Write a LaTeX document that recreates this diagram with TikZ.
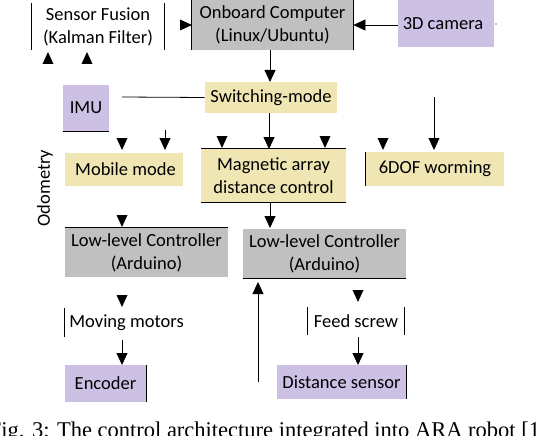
\documentclass[tikz,border=0pt]{standalone}
\usepackage{fontspec}
\setmainfont{Carlito}
\newfontfamily\capfont{Liberation Serif}
\usetikzlibrary{arrows.meta}
\definecolor{lav}{RGB}{204,193,228}
\definecolor{crm}{RGB}{240,230,180}
\definecolor{gryb}{RGB}{192,192,192}
\newcommand\headdn[2]{\fill (#1-5.5,#2-12) -- (#1+5.5,#2-12) -- (#1,#2) -- cycle;}
\newcommand\headup[2]{\fill (#1-5.5,#2+12) -- (#1+5.5,#2+12) -- (#1,#2) -- cycle;}
\newcommand\headrt[2]{\fill (#1-12,#2-5.5) -- (#1-12,#2+5.5) -- (#1,#2) -- cycle;}
\begin{document}
\begin{tikzpicture}[x=1pt,y=-1pt,line width=0.8pt,
  box/.style={inner sep=0pt,align=center,font=\fontsize{18.5}{23}\selectfont},
  lavbox/.style={box,fill=lav},
  crmbox/.style={box,fill=crm},
  grybox/.style={box,fill=gryb},
  arr/.style={-{Triangle[width=11pt,length=12pt]}}]
\useasboundingbox (0,0) rectangle (538,436);
\clip (0,0) rectangle (538,436);
% boxes
\node[box,minimum width=132pt,minimum height=47pt] (sf) at (98,26.5) {Sensor Fusion\\(Kalman Filter)};
\draw (sf.north west) -- (sf.south west);
\draw (sf.north east) -- (sf.south east);
\node[grybox,minimum width=161pt,minimum height=50pt] (onb) at (272.5,25) {Onboard Computer\\(Linux/Ubuntu)};
\draw (onb.north west) -- (onb.south west);
\draw (onb.north east) -- (onb.south east);
\node[lavbox,minimum width=96pt,minimum height=47pt] (cam) at (446,23.5) {3D camera\hspace*{6pt}};
\draw (cam.north west) -- (cam.north east);
\node[lavbox,minimum width=46pt,minimum height=46pt] (imu) at (86,108) {IMU};
\draw (imu.south west) -- (imu.south east);
\node[crmbox,minimum width=132pt,minimum height=31pt] (sw) at (271,97.5) {Switching-mode};
\node[crmbox,minimum width=118pt,minimum height=33pt] (mob) at (124,169.5) {\hspace*{3pt}Mobile mode};
\node[crmbox,minimum width=145pt,minimum height=53pt] (mag) at (273.5,175.5) {Magnetic array\\distance control};
\draw (mag.north west) -- (mag.north east);
\draw (mag.south west) -- (mag.south east);
\node[crmbox,minimum width=138pt,minimum height=34pt] (dof) at (435,169) {6DOF worming};
\draw (dof.north west) -- (dof.south west);
\node[grybox,minimum width=163pt,minimum height=49pt] (llca) at (146.5,252.5) {Low-level Controller\\(Arduino)};
\draw (llca.north west) -- (llca.north east);
\node[grybox,minimum width=163pt,minimum height=49pt] (llcb) at (324.5,253.5) {Low-level Controller\\(Arduino)};
\draw (llcb.south west) -- (llcb.south east);
\node[box,anchor=west,minimum height=29pt,inner xsep=5pt] (mm) at (64,322.5) {Moving motors};
\draw (mm.north west) -- (mm.south west);
\node[lavbox,minimum width=81pt,minimum height=37pt] (enc) at (105.5,383.5) {Encoder};
\draw (enc.north east) -- (enc.south east);
\node[box,minimum width=96pt,minimum height=28pt] (fs) at (356,321) {Feed screw};
\draw (fs.north west) -- (fs.south west);
\draw (fs.north east) -- (fs.south east);
\node[lavbox,minimum width=129pt,minimum height=34pt] (ds) at (341.5,382) {Distance sensor};
\draw (ds.north east) -- (ds.south east);
\node[box,rotate=90] (odo) at (45,188) {Odometry};
% connectors
\draw[arr] (cam.west |- 0,25) -- (onb.east |- 0,25);
\draw[arr] (270,50) -- (270,82);
\coordinate (swl) at (122,97);
\draw (sw.west) -- (swl);
\draw[arr] (269,113) -- (269,149);
\coordinate (ca) at (165,130);
\draw[arr] (ca) -- (165,150);
\coordinate (cb) at (434,97);
\draw[arr] (cb) -- (434,150);
\draw[arr] (270,202) -- (270,228);
\coordinate (cc) at (258,382);
\draw[arr] (cc) -- (258,282);
\coordinate (cd) at (122,340);
\draw[arr] (cd) -- (122,365);
\draw[arr] (358,337) -- (358,365);
% loose heads
\headrt{192}{25}
\headup{48}{52}
\headup{87}{52}
\headdn{122}{150}
\headdn{222}{148}
\headdn{325}{148}
\headdn{383}{150}
\headdn{122}{227}
\headdn{122}{307}
\headdn{358}{302}
\fill (496,24) circle (0.6pt);
% caption
\node[anchor=base west,inner sep=0pt,font=\capfont\fontsize{22.5}{27}\selectfont] (cap) at (-11.5,437.5) {Fig. 3: The control architecture integrated into ARA robot [1]};
\end{tikzpicture}
\end{document}
